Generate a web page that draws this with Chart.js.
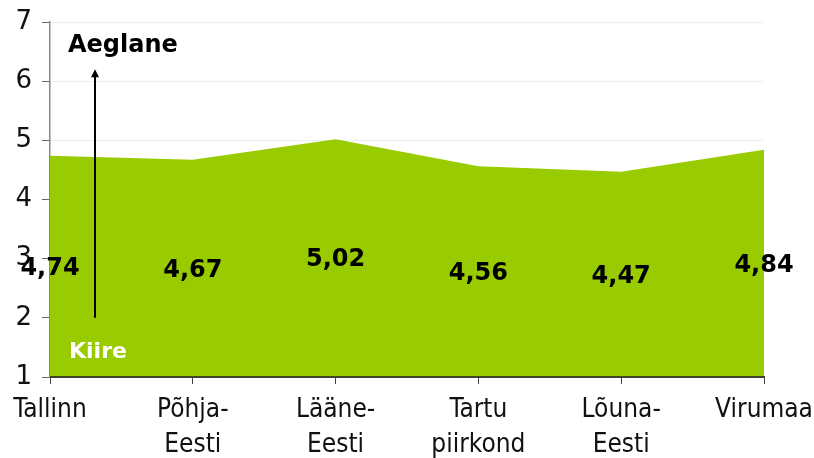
<!DOCTYPE html>
<html>
<head>
<meta charset="utf-8">
<script src="https://cdn.jsdelivr.net/npm/chart.js@4.4.0/dist/chart.umd.min.js"></script>
<style>
  html, body { margin: 0; padding: 0; background: #fff; }
  #wrap { width: 814px; height: 458px; }
</style>
</head>
<body>
<div id="wrap"><canvas id="chart" width="814" height="458"></canvas></div>
<script>
var regions = [['Tallinn'], ['Põhja-', 'Eesti'], ['Lääne-', 'Eesti'], ['Tartu', 'piirkond'], ['Lõuna-', 'Eesti'], ['Virumaa']];
var values = [4.74, 4.67, 5.02, 4.56, 4.47, 4.84];
var yTicks = [1, 2, 3, 4, 5, 6, 7];

// labels drawn in the middle of the green area, plus arrow and texts
var overlay = {
  id: 'overlay',
  afterDatasetsDraw: function(chart) {
    var ctx = chart.ctx;
    var x = chart.scales.x, y = chart.scales.y;
    var area = chart.chartArea;
    ctx.save();
    // x axis line on top of the fill
    ctx.strokeStyle = '#222';
    ctx.lineWidth = 1.5;
    ctx.beginPath();
    ctx.moveTo(area.left, area.bottom);
    ctx.lineTo(area.right, area.bottom);
    ctx.stroke();

    ctx.font = 'bold 24px "DejaVu Sans"';
    ctx.fillStyle = '#000';
    ctx.textAlign = 'center';
    ctx.textBaseline = 'middle';
    values.forEach(function(v, i) {
      ctx.fillText(v.toFixed(2).replace('.', ','), x.getPixelForValue(i), y.getPixelForValue((1 + v) / 2) + 2);
    });

    // arrow
    var ax = 95;
    var y0 = y.getPixelForValue(2), y1 = y.getPixelForValue(6.2);
    ctx.strokeStyle = '#000';
    ctx.lineWidth = 2;
    ctx.beginPath();
    ctx.moveTo(ax, y0);
    ctx.lineTo(ax, y1 + 6);
    ctx.stroke();
    ctx.beginPath();
    ctx.moveTo(ax, y1);
    ctx.lineTo(ax - 4, y1 + 8);
    ctx.lineTo(ax + 4, y1 + 8);
    ctx.closePath();
    ctx.fillStyle = '#000';
    ctx.fill();

    ctx.textAlign = 'left';
    ctx.font = 'bold 24px "DejaVu Sans"';
    ctx.fillText('Aeglane', 68, 46);
    ctx.font = 'bold 22px "DejaVu Sans"';
    ctx.fillStyle = '#fff';
    ctx.fillText('Kiire', 69, 352);
    ctx.restore();
  }
};

new Chart(document.getElementById('chart'), {
  type: 'line',
  data: {
    labels: regions,
    datasets: [{
      data: values,
      fill: 'start',
      backgroundColor: '#99cc00',
      borderWidth: 0,
      borderColor: 'rgba(0,0,0,0)',
      pointRadius: 0,
      tension: 0
    }]
  },
  options: {
    responsive: false,
    animation: false,
    layout: { padding: { top: 22, right: 50, left: 0, bottom: 0 } },
    plugins: { legend: { display: false }, tooltip: { enabled: false } },
    scales: {
      x: {
        offset: false,
        grid: { drawOnChartArea: false, tickLength: 7, tickColor: '#444', color: '#444' },
        border: { color: '#222', width: 1.5 },
        ticks: { color: '#111', font: { family: '"DejaVu Sans Condensed", "DejaVu Sans"', size: 26, lineHeight: 1.35 }, maxRotation: 0, autoSkip: false, padding: 9 },
        afterFit: function(s) { s.height = 81; s.paddingLeft = 0; s.paddingRight = 0; }
      },
      y: {
        min: 1,
        max: 7,
        afterBuildTicks: function(s) { s.ticks = yTicks.map(function(v) { return { value: v }; }); },
        grid: { color: '#eeeeee', tickLength: 8, tickColor: '#666' },
        border: { color: '#888', width: 1.5 },
        ticks: { color: '#111', font: { family: '"DejaVu Sans"', size: 26 }, padding: 10 },
        afterFit: function(s) { s.width = 50; s.paddingTop = 0; s.paddingBottom = 0; }
      }
    }
  },
  plugins: [overlay]
});
</script>
</body>
</html>
